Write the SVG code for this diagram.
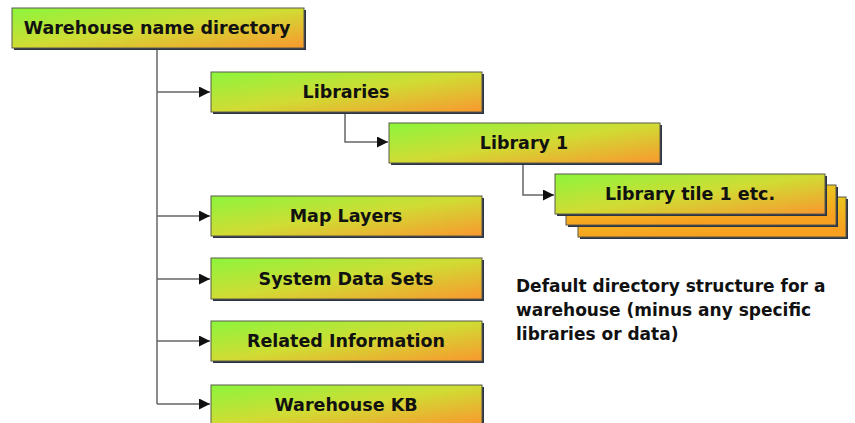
<svg xmlns="http://www.w3.org/2000/svg" width="855" height="423" viewBox="0 0 855 423">
  <defs>
    <linearGradient id="boxFill" x1="0" y1="0" x2="1" y2="1">
      <stop offset="0" stop-color="#8cf53c"/>
      <stop offset="0.5" stop-color="#d0dc34"/>
      <stop offset="1" stop-color="#f9982e"/>
    </linearGradient>
    <linearGradient id="backFill" x1="0" y1="0" x2="0.3" y2="1">
      <stop offset="0" stop-color="#e6d41e"/>
      <stop offset="1" stop-color="#f8a020"/>
    </linearGradient>
    <marker id="arrow" viewBox="0 0 10 10" refX="10" refY="5" markerWidth="11" markerHeight="11" markerUnits="userSpaceOnUse" orient="auto">
      <path d="M0,0 L10,5 L0,10 z" fill="#111"/>
    </marker>
  </defs>
  <style>
    .shadow { fill: #2c3444; }
    .box { fill: url(#boxFill); stroke: #5a5a4a; stroke-width: 1; }
    .back { fill: url(#backFill); stroke: #5a5a4a; stroke-width: 1; }
    .label { font-family: "DejaVu Sans", Verdana, sans-serif; font-weight: bold; font-size: 17.5px; fill: #111; text-anchor: middle; }
    .conn { fill: none; stroke: #666; stroke-width: 1.5; }
    .note { font-family: "DejaVu Sans", Verdana, sans-serif; font-weight: bold; font-size: 17px; fill: #111; }
  </style>

  <rect width="855" height="423" fill="#ffffff"/>

  <g id="connectors">
    <path class="conn" d="M157,49 V404"/>
    <path class="conn" d="M157,92 H210" marker-end="url(#arrow)"/>
    <path class="conn" d="M157,216 H210" marker-end="url(#arrow)"/>
    <path class="conn" d="M157,279 H210" marker-end="url(#arrow)"/>
    <path class="conn" d="M157,341 H210" marker-end="url(#arrow)"/>
    <path class="conn" d="M157,404 H210" marker-end="url(#arrow)"/>
    <path class="conn" d="M345,112 V142 H388" marker-end="url(#arrow)"/>
    <path class="conn" d="M523,163 V195 H554" marker-end="url(#arrow)"/>
  </g>

  <g id="warehouse-root">
    <rect class="shadow" x="14" y="10" width="292" height="40"/>
    <rect class="box" x="12" y="8" width="292" height="40"/>
    <text class="label" x="157" y="34">Warehouse name directory</text>
  </g>

  <g id="libraries">
    <rect class="shadow" x="213" y="74" width="271" height="40"/>
    <rect class="box" x="211" y="72" width="271" height="40"/>
    <text class="label" x="346" y="98">Libraries</text>
  </g>

  <g id="library-1">
    <rect class="shadow" x="391" y="125" width="271" height="40"/>
    <rect class="box" x="389" y="123" width="271" height="40"/>
    <text class="label" x="524" y="149">Library 1</text>
  </g>

  <g id="library-tiles">
    <rect class="shadow" x="580" y="199" width="268" height="40"/>
    <rect class="back" x="578" y="197" width="268" height="40"/>
    <rect class="shadow" x="568" y="187" width="270" height="40"/>
    <rect class="back" x="566" y="185" width="270" height="40"/>
    <rect class="shadow" x="557" y="176" width="270" height="40"/>
    <rect class="box" x="555" y="174" width="270" height="40"/>
    <text class="label" x="690" y="200">Library tile 1 etc.</text>
  </g>

  <g id="map-layers">
    <rect class="shadow" x="213" y="198" width="271" height="40"/>
    <rect class="box" x="211" y="196" width="271" height="40"/>
    <text class="label" x="346" y="222">Map Layers</text>
  </g>

  <g id="system-data-sets">
    <rect class="shadow" x="213" y="260" width="271" height="41"/>
    <rect class="box" x="211" y="258" width="271" height="41"/>
    <text class="label" x="346" y="285">System Data Sets</text>
  </g>

  <g id="related-information">
    <rect class="shadow" x="213" y="323" width="271" height="40"/>
    <rect class="box" x="211" y="321" width="271" height="40"/>
    <text class="label" x="346" y="347">Related Information</text>
  </g>

  <g id="warehouse-kb">
    <rect class="shadow" x="213" y="387" width="271" height="40"/>
    <rect class="box" x="211" y="385" width="271" height="40"/>
    <text class="label" x="346" y="411">Warehouse KB</text>
  </g>

  <g id="caption">
    <text class="note" x="516" y="292">Default directory structure for a</text>
    <text class="note" x="516" y="316">warehouse (minus any specific</text>
    <text class="note" x="516" y="340">libraries or data)</text>
  </g>
</svg>
